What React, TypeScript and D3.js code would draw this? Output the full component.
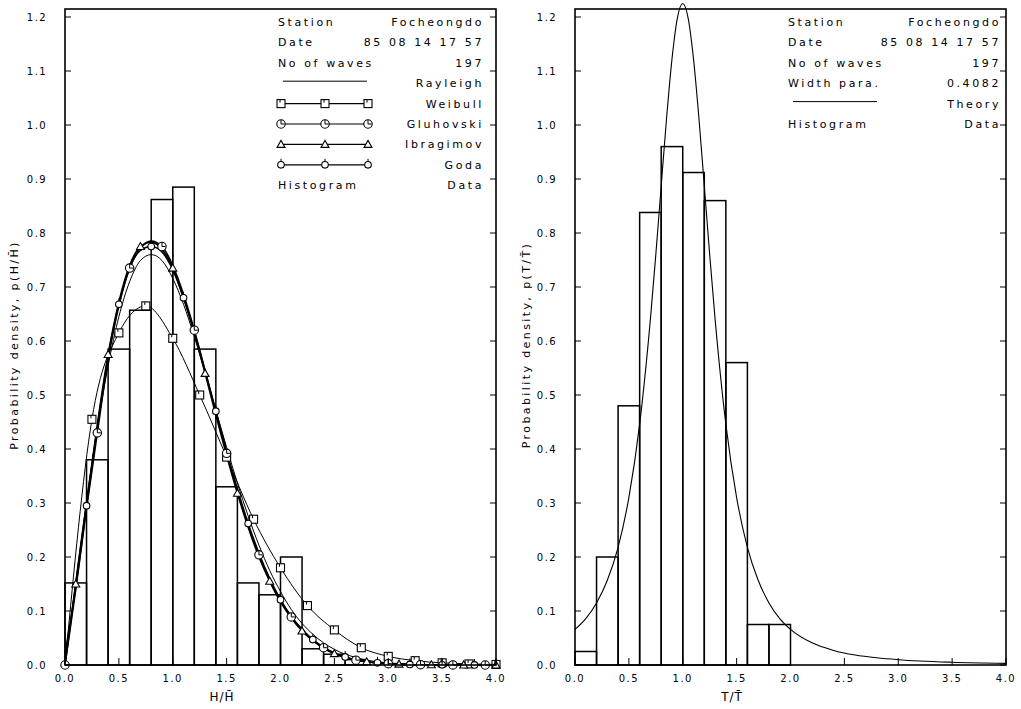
import React from "react";
import * as d3 from "d3";

// ---------- data ----------
const binEdges = [0.0, 0.2, 0.4, 0.6, 0.8, 1.0, 1.2, 1.4, 1.6, 1.8, 2.0, 2.2, 2.4, 2.6, 2.8];
const histH = [0.152, 0.38, 0.585, 0.657, 0.862, 0.885, 0.585, 0.33, 0.152, 0.13, 0.2, 0.03, 0.02, 0.01];
const histT = [0.025, 0.2, 0.48, 0.838, 0.96, 0.912, 0.86, 0.56, 0.075, 0.075];

const xGrid = [0, 0.1, 0.2, 0.3, 0.4, 0.5, 0.6, 0.7, 0.8, 0.9, 1.0, 1.1, 1.2, 1.3, 1.4, 1.5, 1.6, 1.7, 1.8, 1.9, 2.0,
  2.1, 2.2, 2.3, 2.4, 2.5, 2.6, 2.7, 2.8, 2.9, 3.0, 3.1, 3.2, 3.3, 3.4, 3.5, 3.6, 3.7, 3.8, 3.9, 4.0];
const rayleigh = [0, 0.156, 0.304, 0.439, 0.554, 0.645, 0.71, 0.749, 0.76, 0.749, 0.716, 0.668, 0.608, 0.542, 0.472,
  0.403, 0.337, 0.276, 0.222, 0.175, 0.136, 0.103, 0.077, 0.057, 0.041, 0.029, 0.02, 0.014, 0.009, 0.006, 0.004,
  0.0026, 0.0016, 0.001, 0.0006, 0.0004, 0.0002, 0.0001, 0.0001, 0, 0];
const gluhovski = [0, 0.14, 0.29, 0.43, 0.565, 0.665, 0.735, 0.772, 0.785, 0.775, 0.74, 0.686, 0.62, 0.545, 0.468,
  0.392, 0.322, 0.258, 0.204, 0.158, 0.12, 0.089, 0.065, 0.046, 0.032, 0.022, 0.014, 0.009, 0.006, 0.004, 0.0025,
  0.0016, 0.001, 0.0006, 0.0004, 0.0003, 0.0002, 0.0001, 0.0001, 0, 0];
const ibragimov = [0, 0.15, 0.3, 0.445, 0.575, 0.672, 0.74, 0.775, 0.783, 0.77, 0.735, 0.68, 0.614, 0.54, 0.463,
  0.388, 0.318, 0.255, 0.2, 0.155, 0.117, 0.087, 0.063, 0.045, 0.031, 0.021, 0.014, 0.009, 0.006, 0.004, 0.0025,
  0.0016, 0.001, 0.0006, 0.0004, 0.0003, 0.0002, 0.0001, 0.0001, 0, 0];
const goda = [0.02, 0.145, 0.295, 0.44, 0.57, 0.668, 0.735, 0.768, 0.775, 0.765, 0.732, 0.68, 0.617, 0.545, 0.47,
  0.396, 0.326, 0.262, 0.207, 0.16, 0.121, 0.09, 0.066, 0.047, 0.033, 0.022, 0.015, 0.01, 0.006, 0.004, 0.0025,
  0.0016, 0.001, 0.0006, 0.0004, 0.0003, 0.0002, 0.0001, 0.0001, 0, 0];

const xWeibull = [0, 0.25, 0.5, 0.75, 1.0, 1.25, 1.5, 1.75, 2.0, 2.25, 2.5, 2.75, 3.0, 3.25, 3.5, 3.75, 4.0];
const weibull = [0, 0.455, 0.615, 0.665, 0.605, 0.5, 0.385, 0.27, 0.18, 0.11, 0.065, 0.032, 0.016, 0.008, 0.004, 0.002, 0.001];

const xTheory = [0, 0.1, 0.2, 0.3, 0.4, 0.5, 0.6, 0.7, 0.75, 0.8, 0.85, 0.9, 0.95, 1.0, 1.05, 1.1, 1.15, 1.2, 1.25,
  1.3, 1.4, 1.5, 1.6, 1.7, 1.8, 1.9, 2.0, 2.2, 2.4, 2.6, 2.8, 3.0, 3.5, 4.0];
const theory = [0.066, 0.086, 0.115, 0.157, 0.218, 0.31, 0.446, 0.641, 0.76, 0.887, 1.013, 1.122, 1.198, 1.225,
  1.198, 1.122, 1.013, 0.887, 0.76, 0.641, 0.446, 0.31, 0.218, 0.157, 0.115, 0.086, 0.066, 0.041, 0.027, 0.0185,
  0.0133, 0.0098, 0.0051, 0.003];

const yTicks = [0, 0.1, 0.2, 0.3, 0.4, 0.5, 0.6, 0.7, 0.8, 0.9, 1.0, 1.1, 1.2];
const xTicks = [0, 0.5, 1.0, 1.5, 2.0, 2.5, 3.0, 3.5, 4.0];

const leftLegendHead = [["Station", "Focheongdo"], ["Date", "85 08 14 17 57"], ["No of waves", "197"]];
const rightLegendHead = [["Station", "Focheongdo"], ["Date", "85 08 14 17 57"], ["No of waves", "197"], ["Width para.", "0.4082"]];

// ---------- layout ----------
const W = 1021, H = 709;
const frameTop = 9, yTop = 17, yBot = 665;
const FONT = "'DejaVu Sans', sans-serif";
const fmt = d3.format(".1f");

function Marker({ kind, x, y }: { kind: string; x: number; y: number }) {
  const s = { fill: "white", stroke: "black", strokeWidth: 1.1 } as any;
  if (kind === "square")
    return (
      <g>
        <rect x={x - 4} y={y - 4} width={8} height={8} {...s} />
        <line x1={x - 1} y1={y - 4} x2={x - 1} y2={y - 1} stroke="black" strokeWidth={1} />
      </g>
    );
  if (kind === "circle")
    return (
      <g>
        <circle cx={x} cy={y} r={4.2} {...s} />
        <line x1={x} y1={y} x2={x} y2={y - 4} stroke="black" strokeWidth={1} />
        <line x1={x} y1={y} x2={x + 3.5} y2={y} stroke="black" strokeWidth={1} />
      </g>
    );
  if (kind === "triangle")
    return <path d={`M${x - 4},${y + 3}L${x},${y - 4}L${x + 4},${y + 3}Z`} {...s} />;
  return (
    <g>
      <circle cx={x} cy={y} r={3.3} {...s} />
      <line x1={x} y1={y - 3.3} x2={x} y2={y - 6} stroke="black" strokeWidth={1} />
    </g>
  );
}

function Frame({ x0, x1, sx, sy }: { x0: number; x1: number; sx: any; sy: any }) {
  return (
    <g>
      <rect x={x0} y={frameTop} width={x1 - x0} height={yBot - frameTop} fill="none" stroke="black" strokeWidth={1.6} />
      {yTicks.map((t) => (
        <g key={"y" + t}>
          <line x1={x0} x2={x0 + 6} y1={sy(t)} y2={sy(t)} stroke="black" strokeWidth={1} />
          <line x1={x1} x2={x1 - 6} y1={sy(t)} y2={sy(t)} stroke="black" strokeWidth={1} />
          <text x={x0 - 28} y={sy(t) + 4} textAnchor="middle" fontSize={10} fontFamily={FONT} letterSpacing={1.5}>
            {fmt(t)}
          </text>
        </g>
      ))}
      {xTicks.map((t) => (
        <g key={"x" + t}>
          <line x1={sx(t)} x2={sx(t)} y1={yBot} y2={yBot - 7} stroke="black" strokeWidth={1} />
          <text x={sx(t)} y={yBot + 17} textAnchor="middle" fontSize={10} fontFamily={FONT} letterSpacing={1.5}>
            {fmt(t)}
          </text>
        </g>
      ))}
    </g>
  );
}

function Bars({ vals, sx, sy }: { vals: number[]; sx: any; sy: any }) {
  return (
    <g>
      {vals.map((v, i) => (
        <rect key={i} x={sx(binEdges[i])} y={sy(v)} width={sx(binEdges[i + 1]) - sx(binEdges[i])}
          height={sy(0) - sy(v)} fill="none" stroke="black" strokeWidth={1.5} />
      ))}
    </g>
  );
}

function LegendText({ x0, x1, y, left, right }: any) {
  return (
    <g fontSize={11} fontFamily={FONT} letterSpacing={2.6}>
      {left ? <text x={x0} y={y + 4}>{left}</text> : null}
      {right ? <text x={x1} y={y + 4} textAnchor="end">{right}</text> : null}
    </g>
  );
}

export default function App() {
  const sxL = d3.scaleLinear().domain([0, 4]).range([65, 496]);
  const sxR = d3.scaleLinear().domain([0, 4]).range([575, 1006]);
  const sy = d3.scaleLinear().domain([0, 1.2]).range([yBot, yTop]);

  const mkLine = (sx: any, curve: any) =>
    d3.line<[number, number]>().x((d) => sx(d[0])).y((d) => sy(d[1])).curve(curve);
  const lineL = mkLine(sxL, d3.curveMonotoneX);
  const lineR = mkLine(sxR, d3.curveMonotoneX);
  const zip = (xs: number[], ys: number[]) => xs.map((x, i) => [x, ys[i]] as [number, number]);

  const bundle = [
    { vals: gluhovski, kind: "circle", off: 0 },
    { vals: ibragimov, kind: "triangle", off: 1 },
    { vals: goda, kind: "goda", off: 2 },
  ];

  const rowL = [22, 42.4, 62.8, 83.2, 103.6, 124, 144.4, 164.8, 185.2];
  const rowR = [22, 42.4, 62.8, 83.2, 103.6, 124];
  const lx0 = 278, lx1 = 484;
  const rx0 = 788, rx1 = 1001;
  const legMarks = [281, 325, 368];

  return (
    <svg width={W} height={H} style={{ position: "absolute", left: 0, top: 0, background: "white" }}>
      <rect width={W} height={H} fill="white" />
      {/* ---------- left chart ---------- */}
      <Bars vals={histH} sx={sxL} sy={sy} />
      <path d={lineL(zip(xGrid, rayleigh)) || ""} fill="none" stroke="black" strokeWidth={1} />
      <path d={lineL(zip(xWeibull, weibull)) || ""} fill="none" stroke="black" strokeWidth={1} />
      {bundle.map((b) => (
        <path key={b.kind} d={lineL(zip(xGrid, b.vals)) || ""} fill="none" stroke="black" strokeWidth={1.6} />
      ))}
      {xWeibull.map((x, i) => (i > 0 ? <Marker key={"w" + i} kind="square" x={sxL(x)} y={sy(weibull[i])} /> : null))}
      {bundle.map((b) =>
        xGrid.map((x, i) =>
          i % 3 === b.off ? <Marker key={b.kind + i} kind={b.kind} x={sxL(x)} y={sy(b.vals[i])} /> : null
        )
      )}
      <Frame x0={65} x1={496} sx={sxL} sy={sy} />

      {/* left legend */}
      {leftLegendHead.map((r, i) => (
        <LegendText key={i} x0={lx0} x1={lx1} y={rowL[i]} left={r[0]} right={r[1]} />
      ))}
      <line x1={283} x2={367} y1={rowL[3] - 2} y2={rowL[3] - 2} stroke="black" strokeWidth={1} />
      <LegendText x0={lx0} x1={lx1} y={rowL[3]} right="Rayleigh" />
      {[
        ["square", "Weibull"],
        ["circle", "Gluhovski"],
        ["triangle", "Ibragimov"],
        ["goda", "Goda"],
      ].map((m, k) => (
        <g key={m[0]}>
          <line x1={legMarks[0]} x2={legMarks[2]} y1={rowL[4 + k]} y2={rowL[4 + k]} stroke="black" strokeWidth={1.2} />
          {legMarks.map((mx) => (
            <Marker key={mx} kind={m[0]} x={mx} y={rowL[4 + k]} />
          ))}
          <LegendText x0={lx0} x1={lx1} y={rowL[4 + k]} right={m[1]} />
        </g>
      ))}
      <LegendText x0={lx0} x1={lx1} y={rowL[8]} left="Histogram" right="Data" />

      <text transform={`translate(18,345) rotate(-90)`} textAnchor="middle" fontSize={11} fontFamily={FONT} letterSpacing={2.4}>
        Probability density, p(H/H̄)
      </text>
      <text x={222} y={701} textAnchor="middle" fontSize={12} fontFamily={FONT} letterSpacing={1}>
        H/H̄
      </text>

      {/* ---------- right chart ---------- */}
      <Bars vals={histT} sx={sxR} sy={sy} />
      <path d={lineR(zip(xTheory, theory)) || ""} fill="none" stroke="black" strokeWidth={1.1} />
      <Frame x0={575} x1={1006} sx={sxR} sy={sy} />
      {rightLegendHead.map((r, i) => (
        <LegendText key={i} x0={rx0} x1={rx1} y={rowR[i]} left={r[0]} right={r[1]} />
      ))}
      <line x1={793} x2={877} y1={rowR[4] - 2} y2={rowR[4] - 2} stroke="black" strokeWidth={1} />
      <LegendText x0={rx0} x1={rx1} y={rowR[4]} right="Theory" />
      <LegendText x0={rx0} x1={rx1} y={rowR[5]} left="Histogram" right="Data" />

      <text transform={`translate(530,345) rotate(-90)`} textAnchor="middle" fontSize={11} fontFamily={FONT} letterSpacing={2.4}>
        Probability density, p(T/T̄)
      </text>
      <text x={732} y={701} textAnchor="middle" fontSize={12} fontFamily={FONT} letterSpacing={1}>
        T/T̄
      </text>
    </svg>
  );
}
